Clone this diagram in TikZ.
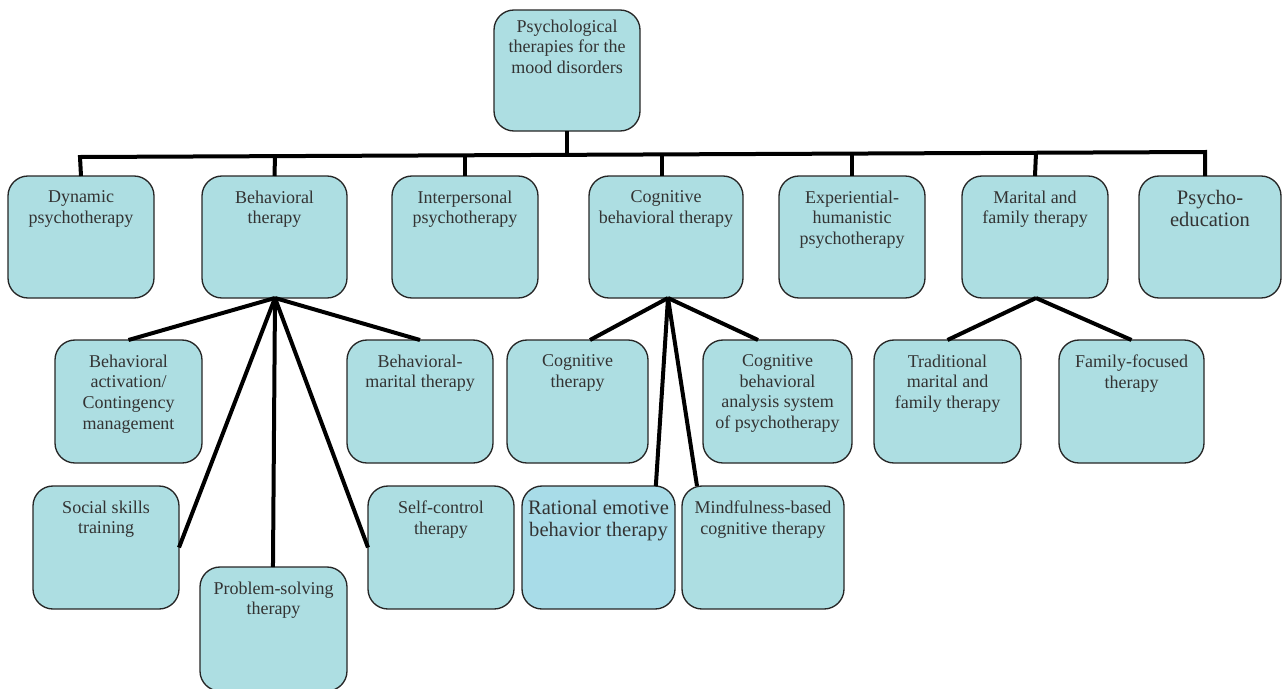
\documentclass[tikz,border=0pt]{standalone}
\usepackage{fontspec}
\setmainfont{Liberation Serif}
\definecolor{boxfill}{HTML}{ADDEE2}
\definecolor{boxfillb}{HTML}{A8DCE8}
\definecolor{txtc}{HTML}{333333}
\tikzset{
  box/.style={draw=black!85, line width=1pt, rounded corners=15pt, fill=boxfill, outer sep=0pt, inner sep=0pt},
  txt/.style={text=txtc, align=center, inner sep=0pt, anchor=north, font=\fontsize{13.5}{15.4}\selectfont},
  bigtxt/.style={txt, font=\fontsize{15.4}{16.5}\selectfont},
  conn/.style={line width=3pt, line join=miter, line cap=butt}
}
% name, x1, y1, x2, y2, text, text offset, box style, text style
\newcommand\mybox[9]{%
  \node[box,#8, minimum width={(#4-#2)*0.75pt}, minimum height={(#5-#3)*0.75pt}] (#1) at ({(#2+#4)/2},{(#3+#5)/2}) {};
  \node[#9] (#1-t) at ({(#2+#4)/2},{#3+#7}) {#6};
}
\begin{document}
\begin{tikzpicture}[x=0.75pt,y=-0.75pt]
\useasboundingbox (0,0) rectangle (1282,689);
\coordinate (bL) at (80,157);
\coordinate (bR) at (1205,152);
\coordinate (bTop) at (567,154.8);
\coordinate (bBeh) at (275,156.1);
\coordinate (bInt) at (465,155.3);
\coordinate (bCbt) at (662,154.4);
\coordinate (bExp) at (852,153.6);
\coordinate (bMar) at (1036,152.75);

\mybox{top}{494}{10}{640}{131}{Psychological\\therapies for the\\mood disorders}{9.5}{}{txt}
\mybox{dyn}{8}{176}{154}{298}{Dynamic\\psychotherapy}{14.7}{}{txt}
\mybox{beh}{202}{176}{347}{298}{Behavioral\\therapy}{14.7}{}{txt}
\mybox{inter}{392}{176}{538}{298}{Interpersonal\\psychotherapy}{14.7}{}{txt}
\mybox{cbt}{589}{176}{743}{298}{Cognitive\\behavioral therapy}{14.7}{}{txt}
\mybox{exp}{779}{176}{925}{298}{Experiential-\\humanistic\\psychotherapy}{14.7}{}{txt}
\mybox{mar}{962}{176}{1108}{298}{Marital and\\family therapy}{14.7}{}{txt}
\mybox{psy}{1139}{176}{1281}{298}{Psycho-\\education}{14}{}{bigtxt}

\mybox{ba}{55}{340}{202}{463}{Behavioral\\activation/\\Contingency\\management}{14.7}{}{txt}
\mybox{bm}{347}{340}{493}{463}{Behavioral-\\marital therapy}{14.7}{}{txt}
\mybox{cog}{507}{340}{648}{463}{Cognitive\\therapy}{14.7}{}{txt}
\mybox{cbasp}{703}{340}{852}{463}{Cognitive\\behavioral\\analysis system\\of psychotherapy}{14.7}{}{txt}
\mybox{trad}{874}{340}{1021}{463}{Traditional\\marital and\\family therapy}{14.7}{}{txt}
\mybox{fam}{1059}{340}{1204}{463}{Family-focused\\therapy}{14.7}{}{txt}

\mybox{ss}{33}{486}{179}{609}{Social skills\\training}{14.7}{}{txt}
\mybox{ps}{200}{567}{347}{691}{Problem-solving\\therapy}{14.7}{}{txt}
\mybox{sc}{368}{486}{514}{609}{Self-control\\therapy}{14.7}{}{txt}
\mybox{rebt}{522}{486}{675}{609}{Rational emotive\\behavior therapy}{14}{fill=boxfillb}{bigtxt}
\mybox{mind}{682}{486}{844}{609}{Mindfulness-based\\cognitive therapy}{14.7}{}{txt}

% connectors
\draw[conn] (dyn.north) -- (bL) -- (bR) -- ([xshift=-3.75pt]psy.north);
\draw[conn] (top.south) -- (bTop);
\draw[conn] (beh.north) -- (bBeh);
\draw[conn] (inter.north) -- (bInt);
\draw[conn] ([xshift=-3pt]cbt.north) -- (bCbt);
\draw[conn] (exp.north) -- (bExp);
\draw[conn] (mar.north) -- (bMar);

\coordinate (hBeh) at (275,298);
\draw[conn] (hBeh) -- (ba.north);
\draw[conn] (hBeh) -- (bm.north);
\draw[conn] (hBeh) -- (ss.east);
\draw[conn] (hBeh) -- ([xshift=-0.4pt]ps.north);
\draw[conn] (hBeh) -- (sc.west);

\coordinate (hCbt) at (668,298);
\draw[conn] (hCbt) -- ([xshift=9.4pt]cog.north);
\draw[conn] (hCbt) -- ([xshift=-14.6pt]cbasp.north);
\draw[conn] (hCbt) -- ([xshift=43pt]rebt.north);
\draw[conn] (hCbt) -- ([xshift=-49.5pt]mind.north);

\coordinate (hMar) at (1036,298);
\draw[conn] (hMar) -- (trad.north);
\draw[conn] (hMar) -- (fam.north);
\end{tikzpicture}
\end{document}
